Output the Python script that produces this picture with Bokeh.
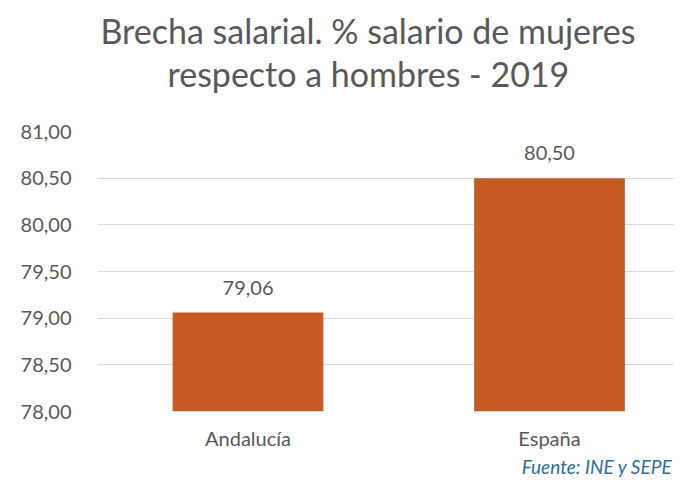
from bokeh.plotting import figure
from bokeh.models import FixedTicker, Title, ColumnDataSource, Range1d
from bokeh.embed import file_html
from bokeh.resources import INLINE
from bokeh.core.properties import value

categories = ["Andalucía", "España"]
values = [79.06, 80.50]
value_labels = ["79,06", "80,50"]
y_ticks = [78.0, 78.5, 79.0, 79.5, 80.0, 80.5, 81.0]
y_tick_labels = ["78,00", "78,50", "79,00", "79,50", "80,00", "80,50", "81,00"]
title_line1 = "Brecha salarial. % salario de mujeres"
title_line2 = "respecto a hombres - 2019"
source_text = "Fuente: INE y SEPE"

FONT = "Lato"
GRAY = "#595959"
BAR = "#C55A22"

xs = list(range(len(categories)))
src = ColumnDataSource(dict(x=xs, top=values, lab=value_labels))

p = figure(width=674, height=479, output_backend="svg", toolbar_location=None,
           x_range=Range1d(-0.4992, 1.4146), y_range=Range1d(78, 81))
p.min_border_left = 97
p.min_border_right = 0
p.min_border_top = 131
p.min_border_bottom = 68
p.outline_line_color = None

p.vbar(x="x", top="top", bottom=78, width=0.5, source=src, fill_color=BAR, line_color=None)
p.text(x="x", y="top", text="lab", source=src, text_align="center", text_baseline="bottom",
       y_offset=-18, text_font=value(FONT), text_font_size="20px", text_color=GRAY)

p.title.text = title_line1
p.title.align = "left"
p.title.offset = 3
p.title.text_font = FONT
p.title.text_font_size = "34px"
p.title.text_font_style = "normal"
p.title.text_color = GRAY
p.title.standoff = 0

spacer = Title(text=" ", text_font_size="1px", standoff=35)
p.add_layout(spacer, "above")
t2 = Title(text=title_line2, align="left", offset=70, text_font=FONT,
           text_font_size="34px", text_font_style="normal", text_color=GRAY, standoff=0)
p.add_layout(t2, "above")

p.yaxis.ticker = FixedTicker(ticks=y_ticks)
p.yaxis.major_label_overrides = {t: l for t, l in zip(y_ticks, y_tick_labels)}
p.xaxis.ticker = FixedTicker(ticks=xs)
p.xaxis.major_label_overrides = {i: c for i, c in zip(xs, categories)}
for ax in (p.xaxis, p.yaxis):
    ax.axis_line_color = None
    ax.major_tick_line_color = None
    ax.minor_tick_line_color = None
    ax.major_label_text_font = FONT
    ax.major_label_text_font_size = "20px"
    ax.major_label_text_color = GRAY
p.yaxis.major_label_standoff = 20
p.xaxis.major_label_standoff = 8

p.xgrid.grid_line_color = None
p.ygrid.grid_line_color = "#D9D9D9"
p.ygrid.grid_line_width = 1

src_title = Title(text=source_text, align="right", offset=2, text_font=FONT,
                  text_font_size="19px", text_font_style="italic", text_color="#2E6E9E",
                  standoff=0)
p.add_layout(src_title, "below")

open("out.html", "w").write(file_html(p, INLINE))
